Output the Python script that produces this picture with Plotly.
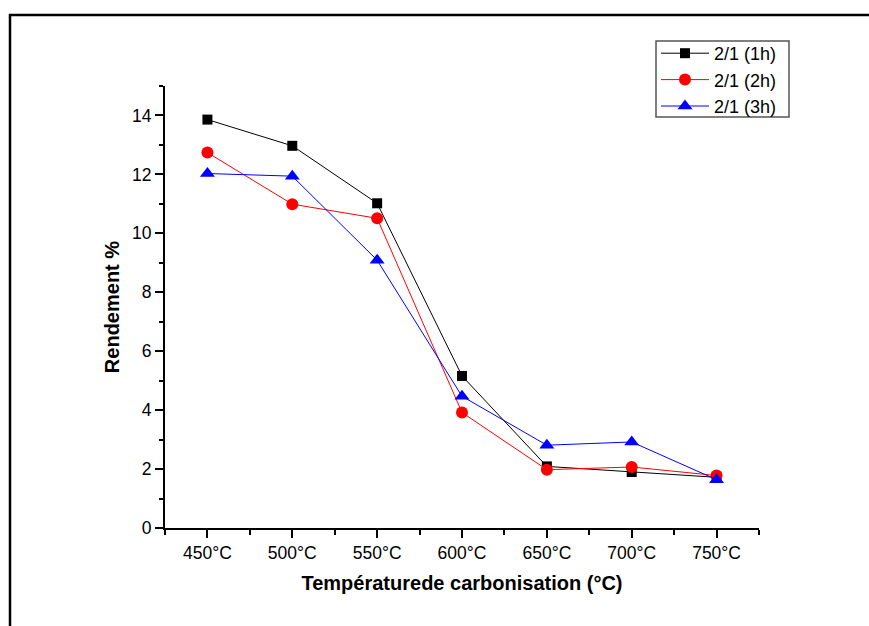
import plotly.graph_objects as go

categories = ["450°C", "500°C", "550°C", "600°C", "650°C", "700°C", "750°C"]
y_1h = [13.86, 12.97, 11.02, 5.16, 2.09, 1.90, 1.72]
y_2h = [12.74, 10.99, 10.51, 3.92, 1.98, 2.07, 1.78]
y_3h = [12.03, 11.94, 9.09, 4.47, 2.81, 2.92, 1.64]
series_names = ["2/1 (1h)", "2/1 (2h)", "2/1 (3h)"]

W, H = 869, 626
ML, MR, MT, MB = 165, 110, 86, 98
PW, PH = W - ML - MR, H - MT - MB

def px_x(px):
    return (px - ML) / PW

def px_y(py):
    return (H - MB - py) / PH

xs = list(range(len(categories)))
fig = go.Figure()
specs = [
    (y_1h, "black", "square", 10),
    (y_2h, "red", "circle", 12),
    (y_3h, "blue", "triangle-up", 13),
]
for name, (ys, col, sym, sz) in zip(series_names, specs):
    fig.add_trace(go.Scatter(
        x=xs, y=ys, name=name, mode="lines+markers",
        line=dict(color=col, width=1),
        marker=dict(color=col, symbol=sym, size=sz, line=dict(width=0)),
    ))

font_family = "Liberation Sans, Arial, sans-serif"
fig.update_layout(
    width=W, height=H,
    margin=dict(l=ML, r=MR, t=MT, b=MB),
    paper_bgcolor="white", plot_bgcolor="white",
    font=dict(family=font_family, size=17.5, color="black"),
    showlegend=True,
    legend=dict(
        x=px_x(656), y=px_y(35), xanchor="left", yanchor="top",
        bgcolor="rgba(0,0,0,0)", borderwidth=0,
        font=dict(size=18, family=font_family, color="black"),
        tracegroupgap=0, itemwidth=48,
    ),
    xaxis=dict(
        range=[-0.5, 6.5], tickmode="array", tickvals=xs, ticktext=categories,
        showline=True, linecolor="black", linewidth=2, mirror=False,
        ticks="outside", ticklen=8, tickwidth=1.5, tickcolor="black",
        minor=dict(tickmode="array", tickvals=[i - 0.5 for i in range(len(categories) + 1)],
                   ticks="outside", ticklen=5, tickwidth=1.5, tickcolor="black"),
        showgrid=False, zeroline=False,
        tickfont=dict(size=17.5),
        title=dict(text="<b>Températurede carbonisation (°C)</b>", font=dict(size=20), standoff=14),
    ),
    yaxis=dict(
        range=[0, 15], tickmode="linear", tick0=0, dtick=2,
        showline=True, linecolor="black", linewidth=2, mirror=False,
        ticks="outside", ticklen=8, tickwidth=1.5, tickcolor="black",
        minor=dict(tickmode="linear", tick0=1, dtick=2,
                   ticks="outside", ticklen=4, tickwidth=1.5, tickcolor="black"),
        showgrid=False, zeroline=False,
        tickfont=dict(size=17.5),
        title=dict(text="<b>Rendement %</b>", font=dict(size=20), standoff=7),
    ),
    shapes=[
        dict(type="rect", xref="paper", yref="paper",
             x0=px_x(10), x1=px_x(1000), y0=px_y(800), y1=px_y(15),
             line=dict(color="black", width=2.5), fillcolor="rgba(0,0,0,0)", layer="below"),
        dict(type="rect", xref="paper", yref="paper",
             x0=px_x(656), x1=px_x(789), y0=px_y(117), y1=px_y(41),
             line=dict(color="#555555", width=1.5), fillcolor="rgba(0,0,0,0)", layer="above"),
    ],
)

fig.write_html("out.html", config={"displayModeBar": False},
               post_script="document.body.style.margin='0px';document.body.style.overflow='hidden';")
